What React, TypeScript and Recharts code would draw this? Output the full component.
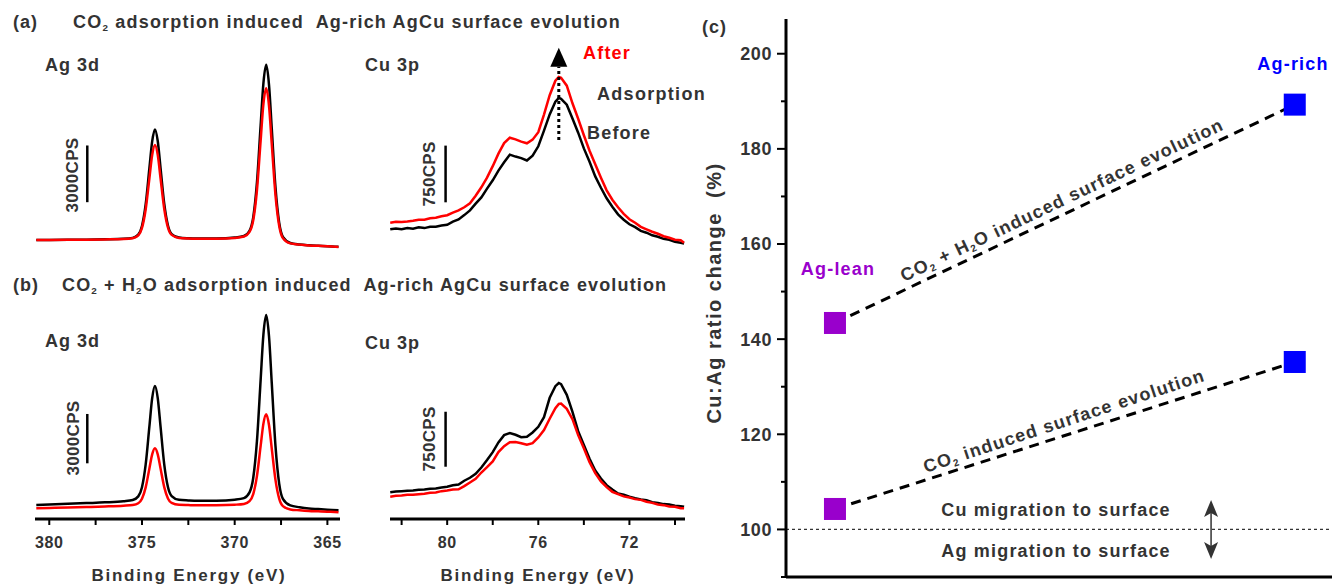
import React from "react";
import { LineChart, Line, XAxis, YAxis, ReferenceLine, ComposedChart, Scatter } from "recharts";

const FONT = "'Liberation Sans', Arial, Helvetica, sans-serif";

// Ag 3d binding energy grid (eV)
const agEnergy = [380.7, 380, 379, 378, 377, 376, 375.5, 375.2, 375, 374.8, 374.6, 374.45, 374.3, 374.15, 374, 373.8, 373.6, 373.4, 373, 372.5, 372, 371, 370, 369.5, 369.2, 369, 368.8, 368.6, 368.45, 368.3, 368.15, 368, 367.8, 367.6, 367.4, 367, 366.5, 366, 365.5, 365, 364.4];
// (a) CO2 adsorption, Ag 3d (CPS)
const agBeforeA = [1000, 1005, 1012, 1018, 1035, 1060, 1112, 1286, 1742, 2890, 4800, 6220, 6850, 6235, 4820, 2920, 1770, 1315, 1128, 1088, 1075, 1080, 1130, 1210, 1490, 2200, 4030, 7060, 9300, 10265, 9225, 6890, 3780, 1910, 1160, 840, 760, 720, 695, 675, 640];
const agAfterA = [1000, 1005, 1010, 1015, 1030, 1050, 1095, 1245, 1640, 2625, 4265, 5490, 6025, 5505, 4280, 2650, 1660, 1270, 1110, 1075, 1065, 1070, 1110, 1185, 1430, 2045, 3625, 6255, 8195, 9025, 8115, 6085, 3375, 1750, 1100, 820, 755, 715, 690, 670, 635];
// (b) CO2 + H2O adsorption, Ag 3d (CPS)
const agBeforeB = [1005, 1030, 1070, 1115, 1160, 1230, 1305, 1525, 2080, 3465, 5775, 7495, 8240, 7500, 5780, 3475, 2095, 1545, 1315, 1280, 1260, 1265, 1325, 1420, 1765, 2645, 4880, 8610, 11375, 12550, 11275, 8410, 4590, 2300, 1375, 975, 865, 790, 750, 710, 675];
const agAfterB = [800, 820, 845, 877, 909, 955, 997, 1107, 1380, 2074, 3222, 4078, 4450, 4083, 3227, 2089, 1401, 1127, 1011, 996, 985, 987, 1018, 1064, 1236, 1667, 2759, 4591, 5948, 6515, 5868, 4431, 2529, 1387, 931, 732, 677, 636, 613, 590, 566];

// Cu 3p binding energy grid (eV)
const cuEnergy = [82.5, 82.25, 82, 81.75, 81.5, 81.25, 81, 80.75, 80.5, 80.25, 80, 79.75, 79.5, 79.25, 79, 78.75, 78.5, 78.25, 78, 77.75, 77.5, 77.25, 77, 76.75, 76.5, 76.25, 76, 75.75, 75.5, 75.25, 75.1, 75, 74.75, 74.5, 74.25, 74, 73.75, 73.5, 73.25, 73, 72.75, 72.5, 72.25, 72, 71.75, 71.5, 71.25, 71, 70.75, 70.5, 70.25, 70, 69.75, 69.6];
const cuBeforeA = [1000, 1012, 1001, 1018, 1009, 1026, 1016, 1033, 1034, 1050, 1060, 1101, 1131, 1188, 1250, 1340, 1422, 1538, 1648, 1776, 1886, 1988, 1962, 1942, 1910, 1975, 2098, 2305, 2520, 2688, 2737, 2726, 2648, 2466, 2278, 2070, 1894, 1700, 1550, 1410, 1299, 1198, 1127, 1066, 1028, 980, 955, 921, 902, 874, 861, 835, 822, 812];
const cuAfterA = [1087, 1100, 1098, 1104, 1112, 1127, 1126, 1147, 1152, 1173, 1186, 1220, 1251, 1292, 1345, 1445, 1556, 1683, 1835, 2001, 2140, 2212, 2190, 2160, 2138, 2186, 2285, 2518, 2773, 2966, 3015, 3004, 2900, 2667, 2462, 2244, 2040, 1860, 1683, 1516, 1391, 1292, 1205, 1133, 1087, 1033, 1000, 968, 941, 908, 888, 862, 855, 822];
const cuBeforeB = [1000, 1010, 1016, 1020, 1025, 1034, 1039, 1047, 1053, 1066, 1075, 1097, 1107, 1158, 1198, 1252, 1339, 1440, 1548, 1680, 1780, 1808, 1785, 1752, 1757, 1816, 1894, 2025, 2289, 2448, 2491, 2476, 2330, 2098, 1834, 1644, 1457, 1298, 1188, 1098, 1038, 984, 966, 939, 920, 903, 893, 866, 856, 839, 834, 816, 811, 802];
const cuAfterB = [941, 952, 957, 966, 966, 975, 980, 993, 998, 1016, 1025, 1038, 1040, 1084, 1134, 1185, 1270, 1343, 1421, 1548, 1630, 1684, 1685, 1670, 1648, 1670, 1748, 1848, 2003, 2148, 2205, 2210, 2139, 1998, 1780, 1602, 1412, 1261, 1148, 1070, 1007, 975, 944, 929, 907, 897, 871, 856, 834, 825, 807, 802, 784, 782];

const agTicks = [380, 377.5, 375, 372.5, 370, 367.5, 365];
const cuTicks = [82, 80, 78, 76, 74, 72, 70];

// panel (c)
const sampleX = [1, 2]; // Ag-lean, Ag-rich
const co2H2oRatio = [143.4, 189.3];
const co2Ratio = [104.3, 135.2];
const ratioTicks = [90, 100, 110, 120, 130, 140, 150, 160, 170, 180, 190, 200];

const Sub = ({ children }: any) => (
  <span style={{ fontSize: "0.55em", position: "relative", top: "0.3em" }}>{children}</span>
);

function Txt({ x, y, size = 18, color = "#333", center = false, rotate = 0, spacing = 1, children }: any) {
  return (
    <div
      style={{
        position: "absolute",
        left: x,
        top: y,
        transform: `translate(${center ? "-50%" : "0"}, -50%) rotate(${rotate}deg)`,
        fontFamily: FONT,
        fontWeight: 700,
        fontSize: size,
        color,
        letterSpacing: spacing,
        whiteSpace: "pre",
        lineHeight: 1,
      }}
    >
      {children}
    </div>
  );
}

const UpArrow = (p: any) => {
  const { x1, y1, y2 } = p;
  const top = Math.min(y1, y2);
  const bot = Math.max(y1, y2);
  return (
    <g>
      <line x1={x1} x2={x1} y1={bot} y2={top} stroke="#000" strokeWidth={3} strokeDasharray="3 3" />
      <polygon points={`${x1},${top - 19} ${x1 - 8.5},${top} ${x1 + 8.5},${top}`} fill="#000" />
    </g>
  );
};

const DoubleArrow = (p: any) => {
  const { x1, y1, y2 } = p;
  const top = Math.min(y1, y2);
  const bot = Math.max(y1, y2);
  return (
    <g>
      <line x1={x1} x2={x1} y1={top + 8} y2={bot - 8} stroke="#333" strokeWidth={1.5} />
      <polygon points={`${x1},${top} ${x1 - 7},${top + 17} ${x1},${top + 13} ${x1 + 7},${top + 17}`} fill="#333" />
      <polygon points={`${x1},${bot} ${x1 - 7},${bot - 17} ${x1},${bot - 13} ${x1 + 7},${bot - 17}`} fill="#333" />
    </g>
  );
};

const Square = (p: any) => <rect x={p.cx - 11} y={p.cy - 11} width={22} height={22} fill={p.fill} />;

const RatioTick = (p: any) => {
  const { x, y, payload } = p;
  const v = payload.value;
  const major = v % 20 === 0;
  return (
    <g>
      <line x1={x - (major ? 9 : 5)} x2={x} y1={y} y2={y} stroke="#000" strokeWidth={2} />
      {major && (
        <text x={x - 14} y={y} dy="0.36em" textAnchor="end" fill="#333" fontSize={18} fontWeight={700} fontFamily={FONT} letterSpacing={0.6}>
          {v}
        </text>
      )}
    </g>
  );
};

function Spectrum({ left, top, width, plotHeight, energy, before, after, xDomain, yDomain, ticks, labelStep, showAxis, bar, curve, arrow }: any) {
  const rows = energy.map((e: number, i: number) => ({ e, before: before[i], after: after[i] }));
  const axisH = showAxis ? 40 : 0;
  const pad = 20;
  return (
    <div style={{ position: "absolute", left: left - pad, top }}>
      <LineChart width={width + 2 * pad} height={plotHeight + axisH} data={rows} margin={{ top: 0, right: pad, bottom: 0, left: pad }}>
        <XAxis
          type="number"
          dataKey="e"
          domain={xDomain}
          reversed
          allowDataOverflow
          hide={!showAxis}
          height={axisH}
          ticks={ticks}
          interval={0}
          tickFormatter={(v: number) => (v % labelStep === 0 ? String(v) : "")}
          axisLine={{ stroke: "#000", strokeWidth: 3 }}
          tickLine={{ stroke: "#000", strokeWidth: 2 }}
          tickSize={6}
          tickMargin={12}
          tick={{ fill: "#333", fontSize: 16, fontWeight: 700, fontFamily: FONT, letterSpacing: 0.6 }}
        />
        <YAxis type="number" domain={yDomain} hide allowDataOverflow />
        <Line type={curve} dataKey="before" stroke="#000" strokeWidth={2.5} dot={false} isAnimationActive={false} />
        <Line type={curve} dataKey="after" stroke="#ff0000" strokeWidth={2.5} dot={false} isAnimationActive={false} />
        <ReferenceLine segment={[{ x: bar.x, y: bar.y0 }, { x: bar.x, y: bar.y0 + bar.size }]} stroke="#000" strokeWidth={2.5} />
        {arrow && <ReferenceLine segment={[{ x: arrow.x, y: arrow.y0 }, { x: arrow.x, y: arrow.y1 }]} shape={UpArrow} />}
      </LineChart>
    </div>
  );
}

export default function App() {
  const upper = sampleX.map((x, i) => ({ x, y: co2H2oRatio[i] }));
  const lower = sampleX.map((x, i) => ({ x, y: co2Ratio[i] }));
  const lean = [{ x: sampleX[0], y: co2H2oRatio[0] }, { x: sampleX[0], y: co2Ratio[0] }];
  const rich = [{ x: sampleX[1], y: co2H2oRatio[1] }, { x: sampleX[1], y: co2Ratio[1] }];

  return (
    <div style={{ position: "absolute", left: 0, top: 0, width: 1332, height: 584, overflow: "hidden", background: "#fff" }}>
      {/* panel (a) */}
      <Txt x={13} y={22}>(a)</Txt>
      <Txt x={73} y={22} spacing={1.2}>
        CO<Sub>2</Sub> adsorption induced  Ag-rich AgCu surface evolution
      </Txt>
      <Txt x={45} y={65}>Ag 3d</Txt>
      <Txt x={365} y={65}>Cu 3p</Txt>
      <Spectrum
        left={35} top={40} width={305} plotHeight={220}
        energy={agEnergy} before={agBeforeA} after={agAfterA}
        xDomain={[364.32, 380.77]} yDomain={[-58, 11580]} ticks={agTicks} labelStep={5}
        showAxis={false} curve="monotone" bar={{ x: 377.95, y0: 3000, size: 3000 }}
      />
      <Spectrum
        left={390} top={40} width={295} plotHeight={220}
        energy={cuEnergy} before={cuBeforeA} after={cuAfterA}
        xDomain={[69.56, 82.51]} yDomain={[594, 3504]} ticks={cuTicks} labelStep={4}
        showAxis={false} curve="linear" bar={{ x: 80.07, y0: 1357, size: 750 }}
        arrow={{ x: 75.1, y0: 2181, y1: 3151 }}
      />
      <Txt x={72} y={175} size={17} spacing={0.3} center rotate={-90}>3000CPS</Txt>
      <Txt x={429} y={174} size={17} spacing={0.3} center rotate={-90}>750CPS</Txt>
      <Txt x={583} y={53} color="#ff0000" spacing={1.2}>After</Txt>
      <Txt x={597} y={94} spacing={1.3}>Adsorption</Txt>
      <Txt x={587} y={133} spacing={1.2}>Before</Txt>

      {/* panel (b) */}
      <Txt x={13} y={285}>(b)</Txt>
      <Txt x={62} y={285} spacing={1.15}>
        CO<Sub>2</Sub> + H<Sub>2</Sub>O adsorption induced  Ag-rich AgCu surface evolution
      </Txt>
      <Txt x={45} y={341}>Ag 3d</Txt>
      <Txt x={365} y={343}>Cu 3p</Txt>
      <Spectrum
        left={35} top={300} width={305} plotHeight={219}
        energy={agEnergy} before={agBeforeB} after={agAfterB}
        xDomain={[364.32, 380.77]} yDomain={[149, 13464]} ticks={agTicks} labelStep={5}
        showAxis curve="monotone" bar={{ x: 377.95, y0: 3535, size: 3000 }}
      />
      <Spectrum
        left={390} top={300} width={295} plotHeight={219}
        energy={cuEnergy} before={cuBeforeB} after={cuAfterB}
        xDomain={[69.56, 82.51]} yDomain={[636, 3623]} ticks={cuTicks} labelStep={4}
        showAxis curve="linear" bar={{ x: 80.07, y0: 1349, size: 750 }}
      />
      <Txt x={73} y={438} size={17} spacing={0.3} center rotate={-90}>3000CPS</Txt>
      <Txt x={429} y={439} size={17} spacing={0.3} center rotate={-90}>750CPS</Txt>
      <Txt x={189} y={575} size={17} spacing={1.7} center>Binding Energy (eV)</Txt>
      <Txt x={538} y={575} size={17} spacing={1.7} center>Binding Energy (eV)</Txt>

      {/* panel (c) */}
      <Txt x={702} y={27}>(c)</Txt>
      <div style={{ position: "absolute", left: 700, top: 0 }}>
        <ComposedChart width={632} height={584} margin={{ top: 19, right: 0, bottom: 0, left: 0 }}>
          <XAxis type="number" dataKey="x" domain={[0.8935, 2.081]} allowDataOverflow height={7} tick={false} tickLine={false} axisLine={{ stroke: "#000", strokeWidth: 3 }} />
          <YAxis
            type="number"
            dataKey="y"
            domain={[90, 207.3]}
            allowDataOverflow
            width={86}
            ticks={ratioTicks}
            interval={0}
            tickSize={0}
            tickMargin={0}
            tickLine={false}
            axisLine={{ stroke: "#000", strokeWidth: 3 }}
            tick={RatioTick}
          />
          <ReferenceLine y={100} stroke="#333" strokeDasharray="3 3" strokeWidth={1.3} />
          <Line data={upper} dataKey="y" stroke="#000" strokeWidth={3} strokeDasharray="10 7" dot={false} isAnimationActive={false} />
          <Line data={lower} dataKey="y" stroke="#000" strokeWidth={3} strokeDasharray="10 7" dot={false} isAnimationActive={false} />
          <Scatter data={lean} dataKey="y" fill="#9900cc" shape={Square} isAnimationActive={false} />
          <Scatter data={rich} dataKey="y" fill="#0000ff" shape={Square} isAnimationActive={false} />
          <ReferenceLine segment={[{ x: 1.818, y: 106.2 }, { x: 1.818, y: 93.8 }]} shape={DoubleArrow} />
        </ComposedChart>
      </div>
      <Txt x={714} y={293} size={20} spacing={1.5} center rotate={-90}>Cu:Ag ratio change  (%)</Txt>
      <Txt x={838} y={269} color="#9900cc" spacing={1.2} center>Ag-lean</Txt>
      <Txt x={1293} y={64} color="#0000ff" spacing={1.2} center>Ag-rich</Txt>
      <Txt x={1062} y={200} spacing={1.2} center rotate={-25.5}>
        CO<Sub>2</Sub> + H<Sub>2</Sub>O induced surface evolution
      </Txt>
      <Txt x={1064} y={421} spacing={1.2} center rotate={-18.3}>
        CO<Sub>2</Sub> induced surface evolution
      </Txt>
      <Txt x={1056} y={510} spacing={1.2} center>Cu migration to surface</Txt>
      <Txt x={1056} y={551} spacing={1.2} center>Ag migration to surface</Txt>
    </div>
  );
}
